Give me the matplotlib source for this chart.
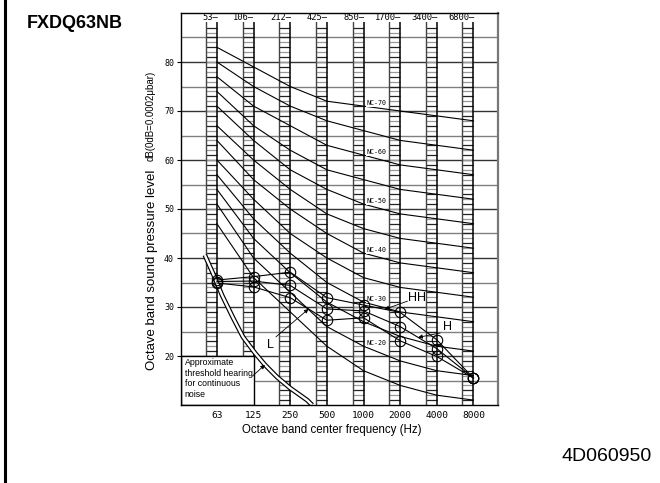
import numpy as np
import matplotlib.pyplot as plt
from matplotlib.patches import Rectangle
from matplotlib.lines import Line2D

# octave bands (centre) and band edge labels printed at the top
bands = ['63', '125', '250', '500', '1000', '2000', '4000', '8000']
edges = ['53', '106', '212', '425', '850', '1700', '3400', '6800']

# NC curves, dB per octave band
nc15 = [47, 36, 29, 22, 17, 14, 12, 11]
nc20 = [51, 40, 33, 26, 22, 19, 17, 16]
nc25 = [54, 44, 37, 31, 27, 24, 22, 21]
nc30 = [57, 48, 41, 35, 31, 29, 28, 27]
nc35 = [60, 52, 45, 40, 36, 34, 33, 32]
nc40 = [64, 56, 50, 45, 41, 39, 38, 37]
nc45 = [67, 60, 54, 49, 46, 44, 43, 42]
nc50 = [71, 64, 58, 54, 51, 49, 48, 47]
nc55 = [74, 67, 62, 58, 56, 54, 53, 52]
nc60 = [77, 71, 67, 63, 61, 59, 58, 57]
nc65 = [80, 75, 71, 68, 66, 64, 63, 62]
nc70 = [83, 79, 75, 72, 71, 70, 69, 68]

# measured sound pressure levels (fan speed HH / H / L)
hh = [35.5, 36.2, 37.1, 31.9, 30.4, 28.9, 23.3, 15.5]
h = [35.2, 35.3, 34.4, 29.6, 29.2, 26.0, 21.5, 15.5]
l = [34.9, 34.1, 31.9, 27.3, 27.8, 23.1, 19.9, 15.5]

# approximate threshold of hearing (x in band index)
thr_x = [-0.33, -0.11, 0.14, 0.44, 0.71, 1.04, 1.31, 1.64, 1.99, 2.46, 2.6]
thr_db = [40.6, 36.9, 32.4, 27.8, 23.9, 20.6, 18.2, 15.7, 13.5, 11.0, 10.0]

sans = ['Liberation Sans', 'DejaVu Sans']
mono = 'DejaVu Sans Mono'

fig = plt.figure(figsize=(6.6, 4.83), dpi=100)
ax = fig.add_axes([181/660, 1 - 405/483, 317/660, 392/483])
x = np.arange(len(bands))
ax.set_xlim(-0.98, 7.67)
ax.set_ylim(10, 90)

# horizontal grid every 5 dB
for v in range(15, 90, 5):
    ax.axhline(v, color='#333' if v % 10 == 0 else '#808080', lw=1.0, zorder=1)

# ladder columns for each band
rungs = np.arange(11, 88)
rung_cols = ['#222' if r % 2 else '#999' for r in rungs]
for xi in x:
    ax.hlines(rungs, xi - 0.3, xi, colors=rung_cols, lw=0.9, zorder=1)
    ax.axvline(xi - 0.3, color='#444', lw=1.0, zorder=1)
    ax.axvline(xi, color='k', lw=1.1, zorder=1)
    ax.text(xi + 0.02, 89.1, edges[xi] + '\u2014', ha='right', va='center',
            fontsize=6.3, family=mono, zorder=3,
            bbox=dict(facecolor='white', edgecolor='none', pad=0.3))

# NC curves
for nc in [nc15, nc20, nc25, nc30, nc35, nc40, nc45, nc50, nc55, nc60, nc65, nc70]:
    ax.plot(x, nc, color='k', lw=0.8, zorder=2)
for name, nc in [('NC-70', nc70), ('NC-60', nc60), ('NC-50', nc50),
                 ('NC-40', nc40), ('NC-30', nc30), ('NC-20', nc20)]:
    ax.text(4.07, nc[4] + 0.6, name, ha='left', va='center', fontsize=4.8,
            family=mono, zorder=3,
            bbox=dict(facecolor='white', edgecolor='none', pad=0.4))

# threshold of hearing box and double line
x0 = ax.get_xlim()[0]
ax.add_patch(Rectangle((x0, 10), 1 - x0, 10, facecolor='white',
                       edgecolor='k', lw=1.0, zorder=4))
ax.text(-0.88, 19.6, 'Approximate\nthreshold hearing\nfor continuous\nnoise',
        ha='left', va='top', fontsize=6.3, linespacing=1.25, family=sans,
        zorder=5)
ax.plot(thr_x, thr_db, color='k', lw=3.4, zorder=5, solid_capstyle='butt')
ax.plot(thr_x, thr_db, color='white', lw=1.7, zorder=6, solid_capstyle='butt')
arrow = dict(arrowstyle='-|>', lw=0.6, color='k', mutation_scale=6,
             shrinkA=0, shrinkB=0)
ax.annotate('', xy=(thr_x[6], thr_db[6]), xytext=(0.97, 15.9),
            arrowprops=arrow, zorder=7)

# measured data
for s in (hh, h, l):
    ax.plot(x, s, color='k', lw=0.8, marker='o', ms=7.5, mfc='none',
            mec='k', mew=0.8, zorder=8)

ax.text(5.46, 31.8, 'HH', fontsize=9, family=sans, ha='center', va='center')
ax.annotate('', xy=(4.58, hh[4] + (hh[5] - hh[4]) * 0.58), xytext=(5.2, 31.2),
            arrowprops=arrow, zorder=9)
ax.text(6.28, 25.9, 'H', fontsize=9, family=sans, ha='center', va='center')
ax.annotate('', xy=(5.49, h[5] + (h[6] - h[5]) * 0.49), xytext=(6.09, 24.7),
            arrowprops=arrow, zorder=9)
ax.text(1.45, 22.2, 'L', fontsize=9, family=sans, ha='center', va='center')
ax.annotate('', xy=(2.5, (l[2] + l[3]) / 2), xytext=(1.61, 23.9),
            arrowprops=arrow, zorder=9)

# axes, ticks
ax.set_xticks(x)
ax.set_xticklabels(bands, family=mono, fontsize=6.8)
ax.set_yticks(range(20, 90, 10))
ax.set_yticklabels([str(v) for v in range(20, 90, 10)], family=mono, fontsize=6)
ax.tick_params(axis='x', length=0, pad=4)
ax.tick_params(axis='y', length=3, width=0.8, pad=2)
for sp in ax.spines.values():
    sp.set_linewidth(1.0)
    sp.set_zorder(10)
ax.spines['right'].set_color('#777')
ax.spines['right'].set_linewidth(1.6)

fig.text(152/660, 1 - 270/483, 'Octave band sound pressure level', rotation=90,
         ha='center', va='center', fontsize=9.5, family=sans)
fig.text(151/660, 1 - 116/483, 'dB(0dB=0.0002\u03bcbar)', rotation=90,
         ha='center', va='center', fontsize=7, family=sans)
fig.text(332/660, 1 - 430/483, 'Octave band center frequency (Hz)',
         ha='center', va='center', fontsize=8.3, family=sans)

fig.text(27/660, 1 - 23.5/483, 'FXDQ63NB', ha='left', va='center',
         fontsize=13, weight='bold', family='Liberation Sans')
fig.text(652/660, 1 - 456.5/483, '4D060950', ha='right', va='center',
         fontsize=14, family='Liberation Sans')
fig.add_artist(Line2D([4.5/660, 4.5/660], [0, 1], lw=2.2, color='k'))

fig.savefig('out.png', dpi=100)
